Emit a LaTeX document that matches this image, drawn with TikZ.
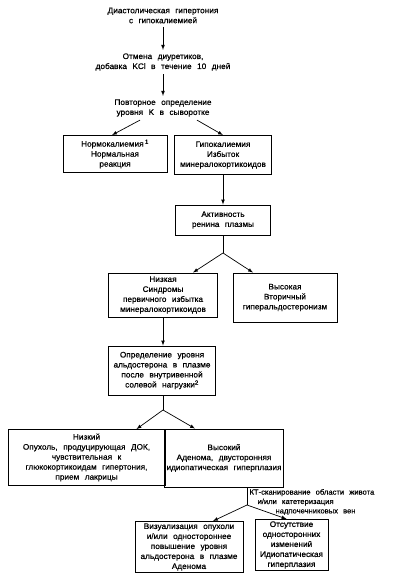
\documentclass[tikz,border=0pt]{standalone}
\usepackage{fontspec}
\setmainfont{Liberation Sans}[WordSpace=2.4, FakeStretch=1.03, FakeBold=0.5]

\tikzset{
  txt/.style  = {align=center, font=\fontsize{8}{10}\selectfont},
  box/.style  = {txt, shape=rectangle, draw, line width=0.9pt, inner sep=2pt},
  link/.style = {draw, line width=0.7pt, -latex},
  stem/.style = {draw, line width=0.7pt}
}

\begin{document}
\begin{tikzpicture}[x=1pt,y=-1pt]
\useasboundingbox (0,0) rectangle (403,587);
\node[txt] (start) at (163,15.5) {Диастолическая гипертония\\с гипокалиемией};
\node[txt] (stop) at (163,62) {Отмена диуретиков,\\добавка KCl в течение 10 дней};
\node[txt] (recheck) at (163,108) {Повторное определение\\уровня K в сыворотке};
\node[box, minimum width=104pt, minimum height=37pt] (norm) at (115,154) {Нормокалиемия\,\textsuperscript{1}\\Нормальная\\реакция};
\node[box, minimum width=97pt, minimum height=39pt] (hypo) at (223,155) {Гипокалиемия\\Избыток\\минералокортикоидов};
\node[box, minimum width=95pt, minimum height=30pt] (renin) at (223,220) {Активность\\ренина плазмы};
\node[box, minimum width=109pt, minimum height=44pt] (low) at (163,295) {Низкая\\Синдромы\\первичного избытка\\минералокортикоидов};
\node[box, minimum width=104pt, minimum height=49pt] (high) at (285,297.5) {Высокая\\Вторичный\\гиперальдостеронизм};
\node[box, minimum width=107pt, minimum height=49pt] (aldo) at (162,370.5) {Определение уровня\\альдостерона в плазме\\после внутривенной\\солевой нагрузки\textsuperscript{2}};
\node[box, minimum width=157pt, minimum height=56pt] (lowald) at (86.5,457.5) {Низкий\\Опухоль, продуцирующая ДОК,\\чувствительная к\\глюкокортикоидам гипертония,\\прием лакрицы};
\node[box, minimum width=102pt, minimum height=58pt] (highald) at (224,458) {Высокий\\Аденома, двусторонняя\\идиопатическая гиперплазия};
\node[txt, align=left, anchor=west, font=\fontsize{7.4}{9.4}\selectfont] (scan) at (246,502) {КТ-сканирование области живота\\\hspace*{8pt}и/или катетеризация\\\hspace*{26pt}надпочечниковых вен};
\node[box, minimum width=108pt, minimum height=50pt] (vis) at (189,547) {Визуализация опухоли\\и/или одностороннее\\повышение уровня\\альдостерона в плазме\\Аденома};
\node[box, minimum width=73pt, minimum height=46pt] (absent) at (291.5,545) {Отсутствие\\односторонних\\изменений\\Идиопатическая\\гиперплазия};

\coordinate (fork1) at (223,253);
\coordinate (fork2) at (163,410);
\coordinate (fork3) at (247,505);

\draw[link] (start) -- (stop);
\draw[link] (stop) -- (recheck);
\draw[link] ([xshift=-23pt]recheck.south) -- ([xshift=-3pt]norm.north);
\draw[link] ([xshift=34pt]recheck.south) -- (hypo.north);
\draw[link] (hypo) -- (renin);
\draw[stem] (renin.south) -- (fork1);
\draw[link] (fork1) -- ([xshift=30pt]low.north);
\draw[link] (fork1) -- ([xshift=-32pt]high.north);
\draw[link] (low) -- (aldo.north -| low.south);
\draw[stem] (aldo.south -| fork2) -- (fork2);
\draw[link] (fork2) -- ([xshift=50pt]lowald.north);
\draw[link] (fork2) -- ([xshift=-29pt]highald.north);
\draw[stem] (highald.south -| fork3) -- (fork3);
\draw[link] (fork3) -- ([xshift=24pt]vis.north);
\draw[link] (fork3) -- ([xshift=-5pt]absent.north);
\end{tikzpicture}
\end{document}
